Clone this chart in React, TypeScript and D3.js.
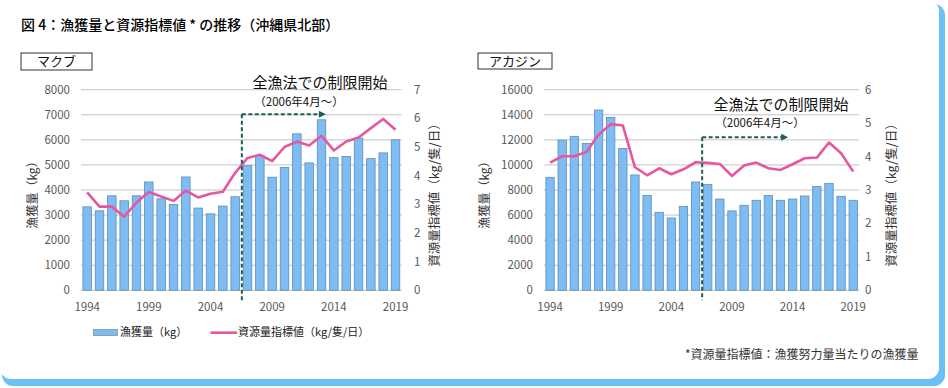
import React from 'react';
import * as d3 from 'd3';

const years = [1994, 1995, 1996, 1997, 1998, 1999, 2000, 2001, 2002, 2003, 2004, 2005, 2006,
  2007, 2008, 2009, 2010, 2011, 2012, 2013, 2014, 2015, 2016, 2017, 2018, 2019];
const tickYears = [1994, 1999, 2004, 2009, 2014, 2019];

// マクブ
const makubuCatch = [3330, 3170, 3770, 3570, 3770, 4320, 3650, 3420, 4520, 3280, 3050, 3360, 3730,
  4970, 5370, 4510, 4900, 6240, 5080, 6800, 5290, 5340, 6070, 5250, 5480, 6000];
const makubuIndex = [3.42, 2.92, 2.92, 2.57, 3.06, 3.43, 3.27, 3.12, 3.48, 3.24, 3.37, 3.44, 4.1,
  4.62, 4.73, 4.51, 5.0, 5.19, 5.05, 5.39, 4.88, 5.19, 5.33, 5.66, 5.98, 5.6];

// アカジン
const akajinCatch = [9010, 11980, 12280, 11720, 14380, 13790, 11320, 9200, 7570, 6220, 5770, 6700, 8640,
  8450, 7280, 6330, 6780, 7180, 7570, 7180, 7280, 7520, 8290, 8530, 7500, 7180];
const akajinIndex = [3.82, 4.01, 4.01, 4.14, 4.65, 4.97, 4.93, 3.68, 3.44, 3.65, 3.47, 3.62, 3.83,
  3.81, 3.78, 3.42, 3.73, 3.82, 3.65, 3.6, 3.77, 3.95, 3.97, 4.42, 4.1, 3.55];

const FONT = '"Noto Sans CJK JP", "Noto Sans", sans-serif';
const BAR_FILL = '#7DBDF3';
const BAR_STROKE = '#5E8DB6';
const LINE = '#E5579E';
const GRID = '#C4C4C4';
const TICK = '#595959';
const NOTE = '#1E5E5A';

function Panel(props: any) {
  const { name, catchData, indexData, yMax, yStep, y2Max, x0, x1, box, note, labels } = props;
  const y0 = 89.7, y1 = 290.3;

  const x = d3.scaleBand<number>().domain(years).range([x0, x1]).paddingInner(0.31).paddingOuter(0.155);
  const y = d3.scaleLinear().domain([0, yMax]).range([y1, y0]);
  const y2 = d3.scaleLinear().domain([0, y2Max]).range([y1, y0]);
  const bw = x.bandwidth();
  const cx = (yr: number) => (x(yr) as number) + bw / 2;

  const line = d3.line<number>()
    .x((_, i) => cx(years[i]))
    .y(d => y2(d));

  const yTicks = d3.range(0, yMax + 1, yStep);
  const y2Ticks = d3.range(0, y2Max + 1, 1);

  // start of regulation: April 2006, between 2006 and 2007
  const regX = (cx(2006) + cx(2007)) / 2 + 0.5;

  return (
    <g fontFamily={FONT}>
      <rect x={box.x} y={box.y} width={box.w} height={box.h} fill="#fff" stroke="#333" strokeWidth={1} />
      <text x={box.x + box.w / 2} y={box.y + box.h / 2} dy="0.36em" textAnchor="middle" fontSize={13} fill="#111">{name}</text>

      {yTicks.map(t => (
        <line key={'g' + t} x1={x0} x2={x1} y1={y(t)} y2={y(t)} stroke={GRID} strokeWidth={1} />
      ))}
      {yTicks.map(t => (
        <text key={'l' + t} x={labels.left} y={y(t)} dy="0.35em" textAnchor="end" fontSize={11.5} fill={TICK}>{t}</text>
      ))}
      {y2Ticks.map(t => (
        <text key={'r' + t} x={labels.right} y={y2(t)} dy="0.35em" textAnchor="start" fontSize={11.5} fill={TICK}>{t}</text>
      ))}
      {tickYears.map(t => (
        <text key={'x' + t} x={cx(t)} y={y1 + 17} dy="0.35em" textAnchor="middle" fontSize={11.5} fill={TICK}>{t}</text>
      ))}

      {catchData.map((v: number, i: number) => (
        <rect key={'b' + i} x={x(years[i])} y={y(v)} width={bw} height={y1 - y(v)}
          fill={BAR_FILL} stroke={BAR_STROKE} strokeWidth={0.8} />
      ))}

      <path d={line(indexData) || ''} fill="none" stroke={LINE} strokeWidth={2.6} strokeLinejoin="round" />

      <text transform={`translate(${labels.yTitle},${(y0 + y1) / 2 + 2}) rotate(-90)`} textAnchor="middle" dy="0.35em" fontSize={12} fill="#333">漁獲量（kg）</text>
      <text transform={`translate(${labels.y2Title},${(y0 + y1) / 2 + 2}) rotate(-90)`} textAnchor="middle" dy="0.35em" fontSize={12.5} fill="#333">資源量指標値（kg/隻/日）</text>

      <line x1={regX} x2={regX} y1={note.arrowY} y2={y1 + 10} stroke={NOTE} strokeWidth={2} strokeDasharray="4 2.5" />
      <line x1={regX} x2={regX + note.arrowLen - 5} y1={note.arrowY} y2={note.arrowY} stroke={NOTE} strokeWidth={2} strokeDasharray="4 2.5" />
      <path d={`M${regX + note.arrowLen},${note.arrowY} l-7,-3.5 l0,7 z`} fill={NOTE} />
      <text x={note.textX} y={note.textY} dy="0.35em" textAnchor="middle" fontSize={15} fill="#111">全漁法での制限開始</text>
      <text x={note.subX} y={note.subY} dy="0.35em" textAnchor="middle" fontSize={11.5} fill="#111">（2006年4月～）</text>
    </g>
  );
}

export default function App() {
  return (
    <div style={{ position: 'absolute', left: 0, top: 0 }}>
      <svg width={948} height={388} style={{ display: 'block' }}>
        <rect x={2} y={4} width={943} height={382} rx={11} fill="#6CC0F6" />
        <rect x={0} y={0} width={939} height={379} rx={11} fill="#fff" />

        <text x={21} y={25} dy="0.35em" fontFamily={FONT} fontSize={14} fontWeight={500} fill="#000">図 4：漁獲量と資源指標値 * の推移（沖縄県北部）</text>

        <Panel name="マクブ" catchData={makubuCatch} indexData={makubuIndex}
          yMax={8000} yStep={1000} y2Max={7} x0={81} x1={401.7}
          box={{ x: 21, y: 53, w: 71, h: 17 }}
          note={{ textX: 320, textY: 83, subX: 299, subY: 102, arrowY: 114.3, arrowLen: 84 }}
          labels={{ left: 70, right: 414, yTitle: 33, y2Title: 435 }} />

        <Panel name="アカジン" catchData={akajinCatch} indexData={akajinIndex}
          yMax={16000} yStep={2000} y2Max={6} x0={544} x1={859.3}
          box={{ x: 478, y: 53, w: 74, h: 16 }}
          note={{ textX: 781, textY: 105, subX: 760, subY: 123, arrowY: 137.3, arrowLen: 86 }}
          labels={{ left: 533, right: 865, yTitle: 485, y2Title: 892 }} />

        <g fontFamily={FONT} fontSize={11} fill="#222">
          <rect x={93.5} y={329.5} width={24} height={6} fill={BAR_FILL} stroke="#7F8FA0" strokeWidth={0.8} />
          <text x={120} y={332.5} dy="0.35em">漁獲量（kg）</text>
          <line x1={210.5} x2={237} y1={332.7} y2={332.7} stroke={LINE} strokeWidth={2.6} />
          <text x={238} y={332.5} dy="0.35em">資源量指標値（kg/隻/日）</text>
        </g>

        <text x={685} y={355} dy="0.35em" fontFamily={FONT} fontSize={12} fill="#333">*資源量指標値：漁獲努力量当たりの漁獲量</text>
      </svg>
    </div>
  );
}
